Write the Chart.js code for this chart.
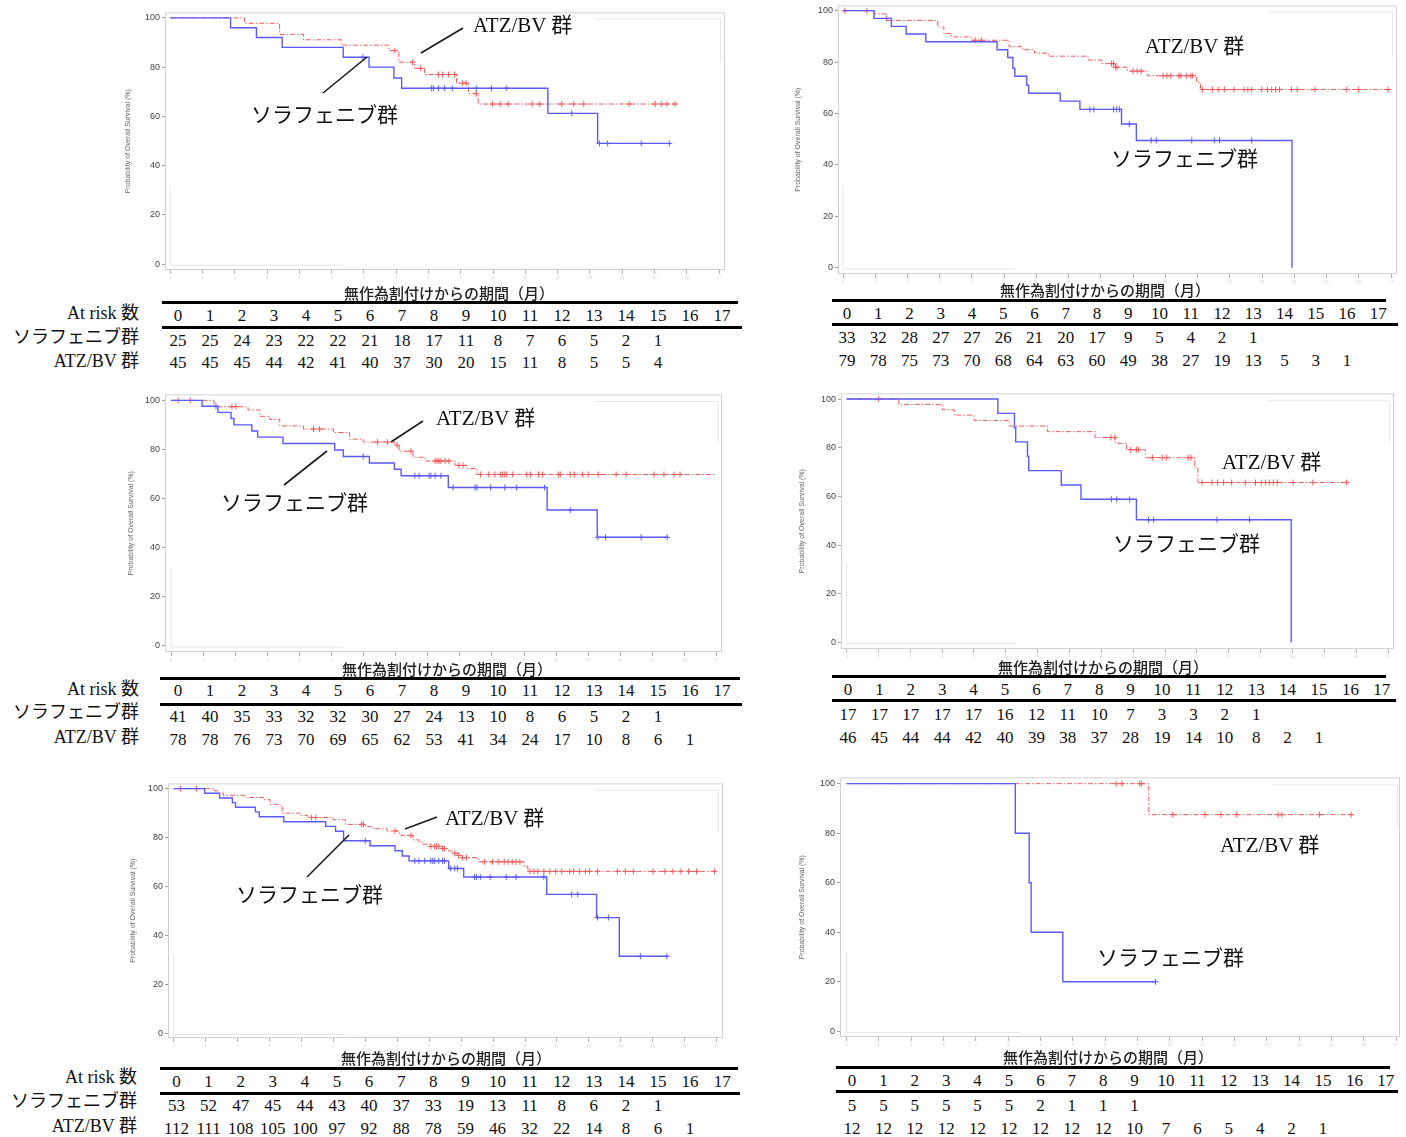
<!DOCTYPE html>
<html>
<head>
<meta charset="utf-8">
<script src="https://cdn.jsdelivr.net/npm/chart.js@4.4.1/dist/chart.umd.min.js"></script>
<style>
  body { margin: 0; background: #fff; width: 1406px; height: 1137px; position: relative; overflow: hidden; }
  canvas { position: absolute; }
  .txt { position: absolute; white-space: nowrap; color: #111; line-height: 1; }
  .num { font-family: "Liberation Serif", "Times New Roman", serif; font-size: 17px; transform: translate(-50%, -50%); }
  .lab { font-family: "Liberation Serif", "Noto Sans CJK JP", serif; font-size: 18px; transform: translate(-100%, -50%); }
  .ttl { font-family: "Noto Sans CJK JP", sans-serif; font-size: 15px; font-weight: 500; color: #222; transform: translate(-50%, -50%); }
  .ann { font-family: "Liberation Serif", "Noto Sans CJK JP", serif; font-size: 21px; transform: translate(0, -50%); }
  .rule { position: absolute; background: #000; height: 3px; }
  svg { position: absolute; left: 0; top: 0; }
</style>
</head>
<body>
<script>
const months = [0, 1, 2, 3, 4, 5, 6, 7, 8, 9, 10, 11, 12, 13, 14, 15, 16, 17];
const yTicks = [0, 20, 40, 60, 80, 100];
const sorName = "ソラフェニブ群";
const atzName = "ATZ/BV 群";
const xTitle = "無作為割付けからの期間（月）";
const yTitle = "Probability of Overall Survival (%)";

// panel 1 (top left)
const p1SorT = [0, 1.87, 2.67, 3.47, 5.36, 6.16, 6.93, 7.17, 11.70, 13.24, 15.46];
const p1SorS = [100, 96, 92, 88, 84, 80, 75.6, 71.4, 61.2, 49, 49];
const p1SorC = [5.97, 8.09, 8.15, 8.31, 8.5, 8.74, 9.48, 9.95, 10.41, 12.44, 13.3, 13.55, 14.59, 15.46];
const p1AtzT = [0, 2.30, 3.39, 4.13, 5.30, 6.77, 7.08, 7.57, 7.88, 8.87, 9.24, 9.54, 15.70];
const p1AtzS = [100, 97.8, 93.3, 91.1, 88.9, 86.7, 82.0, 79.5, 77.0, 73.5, 69.2, 65.0, 65.0];
const p1AtzC = [6.96, 7.51, 7.76, 8.31, 8.44, 8.62, 8.81, 9.05, 9.17, 9.48, 9.98, 10.22, 10.47, 11.21, 11.45, 12.13, 12.5, 12.81, 14.22, 15.02, 15.21, 15.39, 15.64];
const p1SorRisk = [25, 25, 24, 23, 22, 22, 21, 18, 17, 11, 8, 7, 6, 5, 2, 1];
const p1AtzRisk = [45, 45, 45, 44, 42, 41, 40, 37, 30, 20, 15, 11, 8, 5, 5, 4];

// panel 2 (top right)
const p2SorT = [0, 0.96, 1.50, 1.96, 2.57, 4.78, 5.11, 5.27, 5.33, 5.70, 5.76, 6.74, 7.35, 8.64, 9.10, 13.93];
const p2SorS = [100, 97, 93.9, 90.9, 87.9, 84.8, 81.8, 77.6, 74.5, 71.0, 67.9, 64.8, 61.6, 55.9, 49.5, 0];
const p2SorC = [1.35, 7.66, 7.78, 8.39, 8.49, 8.58, 8.88, 9.56, 9.72, 10.82, 11.52, 11.68, 12.68];
const p2AtzT = [0, 0.98, 1.35, 2.94, 3.13, 3.37, 3.98, 5.15, 5.58, 5.94, 6.37, 7.60, 8.03, 8.45, 8.82, 9.44, 10.97, 11.09, 16.97];
const p2AtzS = [100, 98.7, 96.2, 93.7, 91.1, 89.8, 88.5, 86.0, 84.8, 83.5, 82.3, 80.8, 79.4, 78.0, 76.5, 74.7, 72.0, 69.3, 69.3];
const p2AtzC = [0.06, 0.74, 4.10, 4.29, 8.33, 8.39, 8.45, 8.50, 9.00, 9.13, 9.25, 9.93, 10.05, 10.17, 10.42, 10.48, 10.66, 10.79, 10.85, 11.15, 11.46, 11.64, 11.83, 12.13, 12.44, 12.56, 12.68, 12.99, 13.17, 13.30, 13.42, 13.54, 13.91, 14.09, 14.64, 15.63, 15.99, 16.91];
const p2SorRisk = [33, 32, 28, 27, 27, 26, 21, 20, 17, 9, 5, 4, 2, 1];
const p2AtzRisk = [79, 78, 75, 73, 70, 68, 64, 63, 60, 49, 38, 27, 19, 13, 5, 3, 1];

// panel 3 (middle left)
const p3SorT = [0, 0.97, 1.46, 1.87, 1.96, 2.52, 2.70, 3.49, 5.10, 5.37, 6.18, 6.96, 7.17, 8.64, 11.72, 13.28, 15.48];
const p3SorS = [100, 97.6, 95.1, 92.6, 90.0, 87.5, 85.0, 82.4, 79.8, 77.1, 74.5, 71.9, 69.3, 64.5, 55.3, 44.2, 44.2];
const p3SorC = [1.40, 5.99, 7.60, 7.73, 8.04, 8.10, 8.23, 8.41, 8.79, 9.47, 9.53, 9.96, 10.40, 10.77, 11.64, 12.44, 13.30, 13.54, 14.65, 15.46];
const p3AtzT = [0, 1.34, 2.40, 2.77, 3.08, 3.39, 4.13, 5.06, 5.56, 5.99, 6.98, 7.11, 7.54, 7.92, 8.85, 9.22, 9.53, 16.97];
const p3AtzS = [100, 97.4, 96.1, 93.5, 92.2, 89.6, 88.3, 86.9, 84.2, 83.0, 81.7, 79.3, 76.8, 75.3, 73.5, 72.2, 69.8, 69.8];
const p3AtzC = [0.22, 0.60, 1.90, 2.02, 4.44, 4.63, 6.43, 6.74, 7.05, 7.48, 8.23, 8.29, 8.35, 8.41, 8.54, 8.66, 8.97, 9.10, 9.65, 9.90, 10.09, 10.27, 10.33, 10.40, 10.46, 10.65, 11.08, 11.20, 11.45, 11.58, 12.07, 12.13, 12.44, 12.57, 12.82, 13.00, 13.31, 13.87, 14.18, 15.05, 15.36, 15.67, 15.86];
const p3SorRisk = [41, 40, 35, 33, 32, 32, 30, 27, 24, 13, 10, 8, 6, 5, 2, 1];
const p3AtzRisk = [78, 78, 76, 73, 70, 69, 65, 62, 53, 41, 34, 24, 17, 10, 8, 6, 1];

// panel 4 (middle right)
const p4SorT = [0, 4.75, 5.27, 5.31, 5.68, 5.72, 6.74, 7.36, 9.10, 13.96];
const p4SorS = [100, 94.1, 88.2, 82.4, 76.5, 70.6, 64.7, 58.8, 50.4, 0];
const p4SorC = [8.32, 8.48, 8.89, 9.48, 9.64, 11.63, 12.65];
const p4AtzT = [0, 1.64, 3.01, 3.38, 4.00, 5.12, 6.31, 7.80, 8.45, 8.79, 9.39, 10.93, 11.03, 15.72];
const p4AtzS = [100, 97.8, 95.6, 93.4, 91.2, 88.9, 86.6, 84.2, 81.8, 79.2, 75.9, 72.0, 65.7, 65.7];
const p4AtzC = [1.00, 8.30, 8.42, 8.92, 9.10, 9.17, 9.60, 9.91, 10.04, 10.72, 10.81, 11.16, 11.47, 11.65, 11.84, 12.09, 12.52, 12.84, 13.02, 13.15, 13.27, 13.40, 13.52, 14.02, 14.64, 15.70];
const p4SorRisk = [17, 17, 17, 17, 17, 16, 12, 11, 10, 7, 3, 3, 2, 1];
const p4AtzRisk = [46, 45, 44, 44, 42, 40, 39, 38, 37, 28, 19, 14, 10, 8, 2, 1];

// panel 5 (bottom left)
const p5SorT = [0, 0.97, 1.44, 1.84, 1.94, 2.56, 2.68, 3.45, 4.76, 5.07, 5.32, 6.15, 6.93, 7.16, 7.37, 8.61, 9.08, 11.68, 13.24, 13.95, 15.47];
const p5SorS = [100, 98.1, 96.2, 94.3, 92.4, 90.5, 88.5, 86.5, 84.6, 82.6, 78.7, 76.7, 74.6, 72.5, 70.5, 67.4, 63.9, 56.8, 47.3, 31.5, 31.5];
const p5SorC = [6.00, 7.55, 7.68, 7.86, 8.05, 8.11, 8.17, 8.30, 8.42, 8.48, 8.67, 8.80, 8.89, 9.42, 9.48, 9.60, 9.91, 10.41, 10.72, 11.59, 12.46, 12.65, 13.27, 13.61, 14.61, 15.44];
const p5AtzT = [0, 1.28, 1.40, 1.56, 2.27, 2.83, 3.02, 3.33, 3.40, 3.95, 4.20, 5.00, 5.38, 6.00, 6.25, 6.68, 7.06, 7.12, 7.49, 7.68, 7.80, 8.05, 8.42, 8.61, 8.73, 8.92, 9.04, 9.54, 10.97, 11.09, 16.99];
const p5AtzS = [100, 99.1, 98.2, 97.3, 96.4, 95.5, 93.6, 92.7, 90.0, 89.1, 88.2, 87.3, 85.4, 84.5, 83.6, 82.7, 81.8, 80.9, 79.1, 78.2, 77.3, 76.4, 75.5, 74.5, 73.6, 72.7, 71.8, 70.1, 68.2, 66.2, 66.2];
const p5AtzC = [0.22, 0.72, 4.32, 4.45, 5.88, 5.94, 6.93, 7.43, 8.05, 8.17, 8.23, 8.30, 8.42, 8.48, 8.80, 8.92, 9.04, 9.17, 9.73, 9.98, 10.16, 10.35, 10.47, 10.60, 10.72, 10.84, 11.16, 11.28, 11.40, 11.59, 11.78, 11.96, 12.15, 12.40, 12.52, 12.71, 12.89, 13.02, 13.27, 13.89, 14.14, 14.39, 15.01, 15.38, 15.63, 15.88, 16.12, 16.37, 16.93];
const p5SorRisk = [53, 52, 47, 45, 44, 43, 40, 37, 33, 19, 13, 11, 8, 6, 2, 1];
const p5AtzRisk = [112, 111, 108, 105, 100, 97, 92, 88, 78, 59, 46, 32, 22, 14, 8, 6, 1];

// panel 6 (bottom right)
const p6SorT = [0, 5.22, 5.65, 5.71, 6.69, 9.56];
const p6SorS = [100, 80, 60, 40, 20, 20];
const p6SorC = [9.56];
const p6AtzT = [0, 9.35, 15.67];
const p6AtzS = [100, 87.5, 87.5];
const p6AtzC = [8.34, 8.52, 9.07, 9.13, 10.09, 11.09, 11.58, 12.07, 13.35, 13.47, 14.63, 15.61];
const p6SorRisk = [5, 5, 5, 5, 5, 5, 2, 1, 1, 1];
const p6AtzRisk = [12, 12, 12, 12, 12, 12, 12, 12, 12, 10, 7, 6, 5, 4, 2, 1];

const BLUE = "#5a5aff";
const RED = "#f25a5a";

// page layout of each panel (pixels only)
const panels = [
  { frame: [165, 725, 10.5, 269], xPx: [170.2, 719], yPx: [16, 263], gap: 37,
    sor: [p1SorT, p1SorS, p1SorC], atz: [p1AtzT, p1AtzS, p1AtzC], risk: [p1SorRisk, p1AtzRisk],
    tab: { cx: 449, ty: 292, l1: [302.5, 162, 738], hy: 315, l2: [327.5, 162, 742], ry: [340, 362], c0: 178, step: 32, labels: [139, 313, 337, 361] },
    atzAt: [473, 25], sorAt: [251, 115], leaders: [[421, 53, 463, 28], [323, 93, 367, 57]] },
  { frame: [838, 1397, 4, 274], xPx: [843, 1391], yPx: [9.3, 267.7], gap: 40,
    sor: [p2SorT, p2SorS, p2SorC], atz: [p2AtzT, p2AtzS, p2AtzC], risk: [p2SorRisk, p2AtzRisk],
    tab: { cx: 1105, ty: 289, l1: [300.5, 832, 1386], hy: 313, l2: [324, 832, 1398], ry: [337, 360], c0: 847, step: 31.25 },
    atzAt: [1145, 46], sorAt: [1111, 159], leaders: [] },
  { frame: [165, 722, 393, 652], xPx: [171, 716.6], yPx: [399, 645.7], gap: 34,
    sor: [p3SorT, p3SorS, p3SorC], atz: [p3AtzT, p3AtzS, p3AtzC], risk: [p3SorRisk, p3AtzRisk],
    tab: { cx: 447, ty: 668, l1: [678, 160, 740], hy: 690, l2: [704, 160, 742], ry: [716, 739], c0: 178, step: 32, labels: [139, 689, 712, 737] },
    atzAt: [436, 418], sorAt: [221, 503], leaders: [[391, 442, 423, 421], [284, 485, 327, 451]] },
  { frame: [841, 1394, 392, 649], xPx: [846.6, 1388], yPx: [397.7, 642.3], gap: 39,
    sor: [p4SorT, p4SorS, p4SorC], atz: [p4AtzT, p4AtzS, p4AtzC], risk: [p4SorRisk, p4AtzRisk],
    tab: { cx: 1103, ty: 666, l1: [676, 832, 1386], hy: 689, l2: [700, 832, 1396], ry: [714, 737], c0: 848, step: 31.4 },
    atzAt: [1222, 462], sorAt: [1113, 544], leaders: [] },
  { frame: [168, 723, 782, 1038], xPx: [173.6, 716.7], yPx: [787.3, 1033.3], gap: 35,
    sor: [p5SorT, p5SorS, p5SorC], atz: [p5AtzT, p5AtzS, p5AtzC], risk: [p5SorRisk, p5AtzRisk],
    tab: { cx: 446, ty: 1057, l1: [1068, 160, 738], hy: 1081, l2: [1093, 160, 740], ry: [1105, 1128], c0: 176.5, step: 32.1, labels: [137, 1077, 1101, 1126] },
    atzAt: [445, 818], sorAt: [236, 895], leaders: [[405, 829, 437, 817], [307, 877, 349, 835]] },
  { frame: [840, 1400, 776, 1036.7], xPx: [846.6, 1396], yPx: [782.3, 1031], gap: 38,
    sor: [p6SorT, p6SorS, p6SorC], atz: [p6AtzT, p6AtzS, p6AtzC], risk: [p6SorRisk, p6AtzRisk],
    tab: { cx: 1108, ty: 1056, l1: [1067, 836, 1390], hy: 1080, l2: [1091, 836, 1398], ry: [1105, 1128], c0: 852, step: 31.4 },
    atzAt: [1220, 845], sorAt: [1097, 958], leaders: [] },
];

const framePlugin = {
  id: "frame",
  beforeDatasetsDraw(chart) {
    const { ctx, chartArea: a, scales: { x, y } } = chart;
    ctx.save();
    ctx.lineWidth = 1;
    // faint leftovers of the legend boxes
    ctx.strokeStyle = "#e6e6e6";
    ctx.beginPath();
    ctx.moveTo(x.getPixelForValue(0), y.getPixelForValue(32));
    ctx.lineTo(x.getPixelForValue(0), y.getPixelForValue(-0.5));
    ctx.lineTo(x.getPixelForValue(5.35), y.getPixelForValue(-0.5));
    ctx.moveTo(x.getPixelForValue(13.2), y.getPixelForValue(99.5));
    ctx.lineTo(x.getPixelForValue(17.05), y.getPixelForValue(99.5));
    ctx.lineTo(x.getPixelForValue(17.05), y.getPixelForValue(82));
    ctx.stroke();
    ctx.strokeStyle = "#d2d2d2";
    ctx.strokeRect(a.left + 0.5, a.top + 0.5, a.width - 1, a.height - 1);
    ctx.restore();
  },
};

function stepPoints(t, s) {
  return t.map((v, i) => ({ x: v, y: s[i] }));
}

function survAt(t, s, c) {
  let v = s[0];
  for (let i = 0; i < t.length; i++) if (t[i] <= c) v = s[i];
  return v;
}

function censorPoints(t, s, c) {
  return c.map((v) => ({ x: v, y: survAt(t, s, v) }));
}

function addText(text, x, y, cls) {
  const d = document.createElement("div");
  d.className = "txt " + cls;
  d.textContent = text;
  d.style.left = x + "px";
  d.style.top = y + "px";
  document.body.appendChild(d);
}

function addRule(y, x0, x1) {
  const d = document.createElement("div");
  d.className = "rule";
  d.style.left = x0 + "px";
  d.style.top = y - 1.5 + "px";
  d.style.width = x1 - x0 + "px";
  document.body.appendChild(d);
}

function drawPanel(p) {
  const [L, R, T, B] = p.frame;
  const padTop = 6, padRight = 6, yW = 50, xH = 22;
  const canvas = document.createElement("canvas");
  const cw = Math.round(R - L + yW + padRight);
  const ch = Math.round(B - T + padTop + xH);
  canvas.width = cw;
  canvas.height = ch;
  canvas.style.left = L - yW + "px";
  canvas.style.top = T - padTop + "px";
  document.body.appendChild(canvas);

  const pxX = (p.xPx[1] - p.xPx[0]) / 17;
  const pxY = (p.yPx[1] - p.yPx[0]) / 100;
  const xMin = -(p.xPx[0] - L) / pxX;
  const xMax = 17 + (R - p.xPx[1]) / pxX;
  const yMax = 100 + (p.yPx[0] - T) / pxY;
  const yMin = -(B - p.yPx[1]) / pxY;

  const [sT, sS, sC] = p.sor;
  const [aT, aS, aC] = p.atz;

  new Chart(canvas, {
    type: "line",
    data: {
      datasets: [
        { data: stepPoints(sT, sS), stepped: "before", borderColor: BLUE, borderWidth: 1.4, pointRadius: 0, fill: false },
        { data: stepPoints(aT, aS), stepped: "before", borderColor: RED, borderWidth: 1, borderDash: [5, 2, 1.5, 2], pointRadius: 0, fill: false },
        { data: censorPoints(sT, sS, sC), showLine: false, pointStyle: "cross", pointRadius: 3, borderColor: BLUE, borderWidth: 1 },
        { data: censorPoints(aT, aS, aC), showLine: false, pointStyle: "cross", pointRadius: 3, borderColor: RED, borderWidth: 1 },
      ],
    },
    options: {
      responsive: false,
      animation: false,
      layout: { padding: { top: padTop, right: padRight, left: 0, bottom: 0 } },
      plugins: { legend: { display: false }, tooltip: { enabled: false } },
      scales: {
        x: {
          type: "linear",
          min: xMin,
          max: xMax,
          afterBuildTicks: (s) => { s.ticks = months.map((v) => ({ value: v })); },
          afterFit: (s) => { s.height = xH; },
          grid: { drawOnChartArea: false, drawTicks: true, tickLength: 4, color: "#b4b4b4" },
          border: { display: false },
          ticks: { font: { size: 4 }, color: "#cccccc", padding: 1, maxRotation: 0, autoSkip: false },
        },
        y: {
          min: yMin,
          max: yMax,
          afterBuildTicks: (s) => { s.ticks = yTicks.map((v) => ({ value: v })); },
          afterFit: (s) => { s.width = yW; },
          grid: { drawOnChartArea: false, drawTicks: true, tickLength: 3, color: "#a0a0a0" },
          border: { display: false },
          ticks: { font: { size: 9, family: "Liberation Sans" }, color: "#444", padding: 2 },
          title: {
            display: true,
            text: yTitle,
            font: { size: 7, family: "Liberation Sans" },
            color: "#666",
            padding: { top: yW - p.gap - 4.2, bottom: 0 },
          },
        },
      },
    },
    plugins: [framePlugin],
  });

  // at-risk table
  const tb = p.tab;
  addText(xTitle, tb.cx, tb.ty, "ttl");
  addRule(tb.l1[0], tb.l1[1], tb.l1[2]);
  addRule(tb.l2[0], tb.l2[1], tb.l2[2]);
  months.forEach((m, i) => addText(String(m), tb.c0 + tb.step * i, tb.hy, "num"));
  p.risk.forEach((row, r) => {
    row.forEach((n, i) => addText(String(n), tb.c0 + tb.step * i, tb.ry[r], "num"));
  });
  if (tb.labels) {
    addText("At risk 数", tb.labels[0], tb.labels[1], "lab");
    addText(sorName, tb.labels[0], tb.labels[2], "lab");
    addText(atzName, tb.labels[0], tb.labels[3], "lab");
  }

  // curve labels
  addText(atzName, p.atzAt[0], p.atzAt[1], "ann");
  addText(sorName, p.sorAt[0], p.sorAt[1], "ann");
}

panels.forEach(drawPanel);

// leader lines
const svgNS = "http://www.w3.org/2000/svg";
const svg = document.createElementNS(svgNS, "svg");
svg.setAttribute("width", "1406");
svg.setAttribute("height", "1137");
panels.forEach((p) => {
  p.leaders.forEach(([x1, y1, x2, y2]) => {
    const ln = document.createElementNS(svgNS, "line");
    ln.setAttribute("x1", x1);
    ln.setAttribute("y1", y1);
    ln.setAttribute("x2", x2);
    ln.setAttribute("y2", y2);
    ln.setAttribute("stroke", "#1a1a1a");
    ln.setAttribute("stroke-width", "1.6");
    svg.appendChild(ln);
  });
});
document.body.appendChild(svg);
</script>
</body>
</html>
